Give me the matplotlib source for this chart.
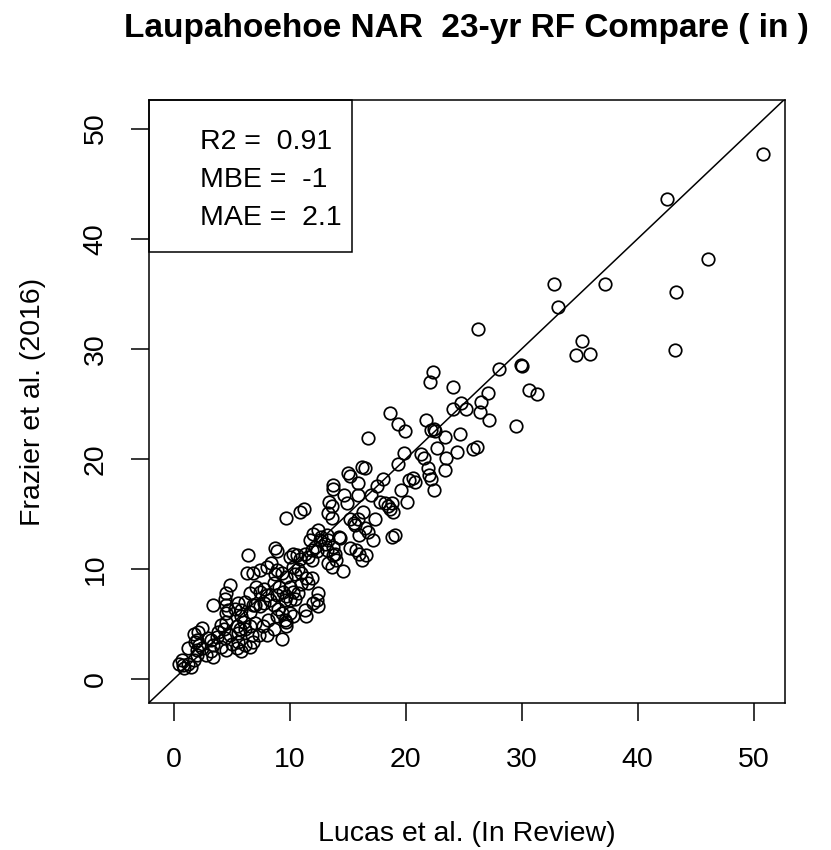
import matplotlib
matplotlib.use("Agg")
import matplotlib.pyplot as plt
from matplotlib.patches import Rectangle

plt.rcParams["font.family"] = ["Liberation Sans", "DejaVu Sans"]

# station annual rainfall (in), Lucas vs Frazier
lucas = [
    50.8, 42.5, 46.1, 43.3, 43.2, 37.2, 32.8, 33.1, 35.2, 34.7, 35.9, 30.0, 29.9,
    30.6, 31.3, 29.5, 28.0, 26.2, 27.1, 26.5, 26.4, 27.2,
    22.3, 22.1, 24.1, 24.8, 25.2, 24.1, 18.6, 19.3, 19.9, 21.7, 22.4, 22.2, 22.5,
    23.4, 24.7, 22.7, 24.4, 25.8, 26.1, 19.8, 19.3, 21.3, 21.6, 23.5, 21.9, 22.0,
    23.4, 20.6, 18.0,
    16.7, 16.5, 16.2, 15.0, 15.2, 15.9, 13.7, 13.7, 17.5, 20.3, 20.8, 22.2, 22.4,
    19.6, 20.1, 14.7, 15.9, 17.0, 18.2, 18.5, 18.8, 18.6, 18.9, 17.8, 13.4, 13.6,
    13.3, 13.6, 14.9, 15.2, 15.5, 15.9, 15.6, 16.3, 17.3, 16.5, 16.7, 16.0, 17.2,
    18.8, 19.1, 12.4, 11.2, 10.9, 12.6, 11.7, 12.2, 11.9, 12.3, 13.2, 13.7, 14.2,
    15.2, 15.7, 16.6, 13.7, 11.3,
    9.7, 12.0, 12.7, 13.2, 13.3, 13.0, 14.3, 8.7, 8.9, 6.4, 10.3, 10.0, 10.6,
    10.9, 11.6, 11.9, 13.9, 14.0, 16.0, 16.2, 14.6, 13.3, 13.6, 8.4, 8.0, 7.4,
    6.8, 6.3, 8.9, 9.3, 8.7, 9.7, 10.3, 10.7, 11.0, 10.4, 11.4, 11.9, 11.6, 11.0,
    12.4, 12.3, 12.4, 12.0, 6.1, 5.8, 7.1, 7.4, 7.8, 8.0, 8.6, 9.1, 9.4, 8.9,
    10.0, 10.3, 9.7, 10.0, 10.4, 10.7, 8.3, 7.8, 7.4, 7.0, 6.6, 9.0, 9.3, 8.9,
    10.0, 10.3, 9.6, 9.7, 11.3, 11.4, 8.1, 7.7, 7.0, 6.6, 6.0, 6.1, 6.7, 7.3,
    8.0, 9.3,
    4.8, 4.5, 4.4, 3.4, 5.5, 5.3, 4.5, 4.7, 4.5, 4.5, 4.1, 4.3, 3.8, 3.7, 3.2,
    2.9, 3.4, 4.4, 4.8, 5.0, 4.1, 4.5, 5.5, 5.5, 5.4, 5.7, 5.8, 3.2, 3.4, 2.8,
    2.4, 2.0, 2.2, 1.8, 2.4, 2.1, 1.7, 2.0, 0.4, 0.8, 1.2, 0.7, 1.5, 0.9, 2.0,
    1.7, 1.2, 5.4, 5.8, 6.6, 6.8, 6.1, 8.6, 8.6, 9.6, 9.7, 6.6, 6.8,
]
frazier = [
    47.7, 43.6, 38.2, 35.2, 29.9, 35.9, 35.9, 33.8, 30.7, 29.4, 29.5, 28.4, 28.5,
    26.3, 25.9, 23.0, 28.2, 31.8, 26.0, 25.2, 24.3, 23.5,
    27.9, 27.0, 26.5, 25.1, 24.5, 24.5, 24.2, 23.2, 22.5, 23.5, 22.7, 22.6, 22.5,
    22.0, 22.3, 21.0, 20.6, 20.9, 21.1, 20.5, 19.5, 20.4, 20.1, 20.1, 19.2, 18.5,
    19.0, 18.3, 18.2,
    21.9, 19.2, 19.3, 18.7, 18.4, 17.8, 17.6, 17.3, 17.5, 18.1, 17.9, 18.2, 17.2,
    17.2, 16.1, 16.7, 16.7, 16.7, 16.0, 15.7, 16.0, 15.4, 15.2, 16.1, 16.1, 15.7,
    15.1, 14.6, 16.0, 14.5, 14.2, 14.5, 14.0, 15.2, 14.5, 13.7, 13.4, 13.1, 12.6,
    12.9, 13.1, 13.5, 15.4, 15.2, 12.6, 12.6, 12.0, 11.7, 11.6, 11.7, 12.0, 12.9,
    11.9, 11.7, 11.3, 11.3, 11.4,
    14.6, 13.2, 12.9, 13.1, 12.6, 12.3, 12.8, 11.9, 11.6, 11.3, 11.4, 11.1, 11.3,
    10.9, 11.1, 10.8, 11.4, 10.8, 11.4, 10.8, 9.8, 10.5, 10.2, 10.5, 10.2, 9.9,
    9.6, 9.6, 9.9, 9.6, 9.5, 9.3, 10.2, 10.0, 9.6, 9.5, 9.2, 9.2, 8.7, 8.6,
    7.8, 7.2, 6.6, 6.9, 7.0, 6.3, 8.4, 7.9, 8.2, 7.6, 8.7, 8.4, 7.9, 7.6,
    8.4, 7.9, 7.5, 7.2, 7.3, 7.8, 7.2, 6.9, 6.6, 6.7, 6.1, 6.4, 6.0, 5.7,
    6.0, 5.7, 5.4, 4.8, 6.3, 5.7, 5.4, 4.8, 5.1, 4.8, 5.2, 4.5, 4.0, 4.0,
    4.0, 3.6,
    8.5, 7.8, 7.3, 6.7, 6.9, 6.4, 6.7, 6.3, 6.0, 5.2, 4.9, 4.5, 4.3, 3.8, 3.5,
    3.7, 3.1, 3.7, 4.0, 3.2, 2.9, 2.6, 3.4, 4.2, 4.8, 4.5, 5.7, 2.5, 2.0, 2.2,
    2.8, 2.6, 3.1, 3.4, 4.6, 4.3, 4.1, 3.5, 1.4, 1.3, 1.4, 1.7, 1.1, 1.0, 2.2,
    1.7, 2.8, 2.8, 2.5, 2.9, 3.4, 3.1, 4.5, 6.7, 7.2, 5.2, 7.8, 6.7,
]
ticks = [0, 10, 20, 30, 40, 50]
stats_text = ["R2 =  0.91", "MBE =  -1", "MAE =  2.1"]

fig = plt.figure(figsize=(8.31, 8.5), dpi=100)
ax = fig.add_axes([149 / 831, 147 / 850, 636 / 831, 603 / 850])

ax.plot(lucas, frazier, "o", mfc="none", mec="black", ms=9, mew=1.25, ls="none")
ax.axline((0, 0), slope=1, color="black", lw=1.1)

ax.set_xlim(-2.15, 52.7)
ax.set_ylim(-2.18, 52.6)
ax.set_xticks(ticks)
ax.set_yticks(ticks)
for s in ax.spines.values():
    s.set_linewidth(1.1)
ax.tick_params(direction="out", length=13, width=1.1, labelsize=20.5)
ax.tick_params(axis="x", pad=19)
ax.tick_params(axis="y", pad=16)
for lbl in ax.get_yticklabels():
    lbl.set_rotation(90)
    lbl.set_va("center")

# stats box in the upper-left corner
ax.add_patch(Rectangle((0, 0.748), 0.319, 0.252, transform=ax.transAxes,
                       fill=False, lw=1.1, clip_on=False))
for i, t in enumerate(stats_text):
    ax.text(0.080, 0.931 - i * 0.0637, t, transform=ax.transAxes,
            ha="left", va="center", fontsize=20.5)

ax.set_xlabel("Lucas et al. (In Review)", fontsize=20.5, va="center")
ax.xaxis.set_label_coords(0.5, -0.217)
ax.set_ylabel("Frazier et al. (2016)", fontsize=20.5, va="center")
ax.yaxis.set_label_coords(-0.1824, 0.5)

fig.text(466 / 831, 1 - 28 / 850, "Laupahoehoe NAR  23-yr RF Compare ( in )",
         ha="center", va="center", fontsize=24, fontweight="bold")

fig.savefig("out.png", dpi=100)
